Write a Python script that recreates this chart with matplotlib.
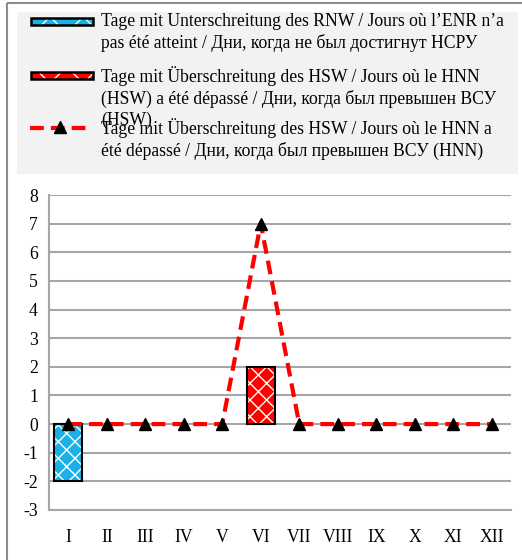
import matplotlib.pyplot as plt
from matplotlib.patches import Rectangle
from matplotlib.lines import Line2D

months = ['I', 'II', 'III', 'IV', 'V', 'VI', 'VII', 'VIII', 'IX', 'X', 'XI', 'XII']
days_below_rnw = [-2, 0, 0, 0, 0, 0, 0, 0, 0, 0, 0, 0]
days_above_hsw = [0, 0, 0, 0, 0, 2, 0, 0, 0, 0, 0, 0]
days_above_hnn = [0, 0, 0, 0, 0, 7, 0, 0, 0, 0, 0, 0]

label_rnw = 'Tage mit Unterschreitung des RNW / Jours où l’ENR n’a\npas été atteint / Дни, когда не был достигнут НСРУ'
label_hsw = 'Tage mit Überschreitung des HSW / Jours où le HNN\n(HSW) a été dépassé / Дни, когда был превышен ВСУ\n(HSW)'
label_hnn = 'Tage mit Überschreitung des HSW / Jours où le HNN a\nété dépassé / Дни, когда был превышен ВСУ (HNN)'

blue = '#1ab0e8'
red = '#ff0000'
grid_gray = '#a6a6a6'

plt.rcParams['font.family'] = ['Liberation Serif', 'DejaVu Serif']
plt.rcParams['axes.unicode_minus'] = False
plt.rcParams['hatch.linewidth'] = 1.0
plt.rcParams['hatch.color'] = 'white'

W, H = 522, 560
fig = plt.figure(figsize=(W / 100, H / 100), dpi=100)

# outer frame (cropped on right/bottom in the original)
frame = fig.add_axes([0, 0, 1, 1])
frame.set_xlim(0, W)
frame.set_ylim(H, 0)
frame.axis('off')
frame.add_patch(Rectangle((7, 3), W + 10, H + 10, fill=False,
                          edgecolor='#8c8c8c', lw=1.5))

# legend area
frame.add_patch(Rectangle((17, 12), 501, 162, facecolor='#f2f2f2',
                          edgecolor='none'))
fs = 12.7
ls_txt = 1.28
frame.add_patch(Rectangle((31, 18), 62, 7, facecolor=blue, edgecolor='white',
                          lw=0, hatch='x'))
frame.add_patch(Rectangle((31, 18), 62, 7, fill=False, edgecolor='black', lw=1.8))
frame.text(101, 13, label_rnw, fontsize=fs, va='top', linespacing=ls_txt)

frame.add_patch(Rectangle((31, 72), 62, 7, facecolor=red, edgecolor='white',
                          lw=0, hatch='x'))
frame.add_patch(Rectangle((31, 72), 62, 7, fill=False, edgecolor='black', lw=1.8))
frame.text(101, 66, label_hsw, fontsize=fs, va='top', linespacing=ls_txt)

frame.add_line(Line2D([30, 90], [128, 128], color=red, lw=3, ls=(0, (3.3, 1.7))))
frame.add_line(Line2D([60], [127], marker='^', color='black', ms=8, ls='none'))
frame.text(101, 118, label_hnn, fontsize=fs, va='top', linespacing=ls_txt)

# chart
ax = fig.add_axes([49 / W, 1 - 510 / H, 462 / W, 315 / H])
x = list(range(len(months)))

for vals, col in [(days_below_rnw, blue), (days_above_hsw, red)]:
    edges = ['black' if v != 0 else 'none' for v in vals]
    # hatched fill, then black outline
    ax.bar(x, vals, width=0.72, color=col, edgecolor='white', lw=0,
           hatch='xx', zorder=2)
    ax.bar(x, vals, width=0.72, fill=False, edgecolor=edges, lw=1.5,
           zorder=3)

ax.plot(x, days_above_hnn, color=red, lw=3, ls=(0, (3.3, 1.7)), zorder=4)
ax.plot(x, days_above_hnn, marker='^', color='black', ms=8, ls='none',
        zorder=5)

ax.set_xlim(-0.5, 11.5)
ax.set_ylim(-3, 8)
ax.set_yticks(range(-3, 9))
ax.set_xticks(x)
ax.set_xticklabels(months)
ax.tick_params(axis='both', length=0, labelsize=fs)
ax.tick_params(axis='x', pad=14)
ax.tick_params(axis='y', pad=8)
ax.grid(axis='y', color=grid_gray, lw=1.5, zorder=0)
ax.set_axisbelow(True)
for s in ['top', 'right']:
    ax.spines[s].set_visible(False)
for s in ['left', 'bottom']:
    ax.spines[s].set_color(grid_gray)
    ax.spines[s].set_linewidth(1.5)

fig.savefig('out.png', dpi=100)
